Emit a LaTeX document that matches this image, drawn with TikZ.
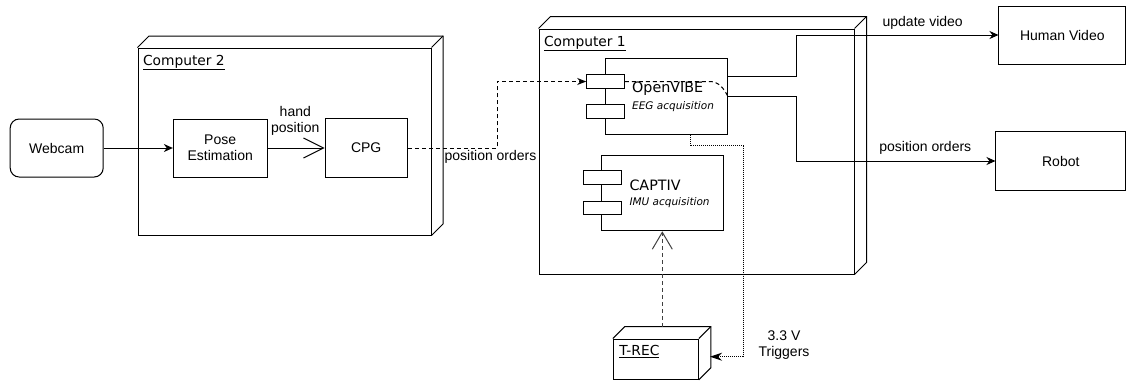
\documentclass[tikz,border=0pt]{standalone}
\usepackage{fontspec}
\setmainfont{Liberation Sans}
\newfontfamily\dejavu{DejaVu Sans}
\usetikzlibrary{arrows.meta}
\newcommand\lblsize{\fontsize{14}{16}\selectfont}
\newcommand\compsize{\dejavu\fontsize{13.8}{15}\selectfont}

\begin{document}
\begin{tikzpicture}[
    x=1pt, y=-1pt, line width=1pt,
    every node/.style={font=\lblsize},
    box/.style={draw, fill=white, inner sep=0pt},
    part/.style={draw, fill=white, minimum width=37.6pt, minimum height=13.6pt, inner sep=0pt},
    title/.style={font=\compsize, anchor=west, inner sep=0pt},
    partname/.style={font=\dejavu\fontsize{14.3}{16}\selectfont, anchor=west, inner sep=0pt},
    partsub/.style={font=\dejavu\itshape\fontsize{10.5}{12}\selectfont, anchor=west, inner sep=0pt},
    flow/.style={-{Stealth[length=9pt,width=8pt]}},
    dashline/.style={dash pattern=on 4pt off 3pt},
    openhead/.style={-{Straight Barb[length=#1,width=20pt]}}
]
\useasboundingbox (0,0) rectangle (1126,381);

% computer 2
\node[draw, inner sep=0pt, minimum width=293pt, minimum height=187pt] (comp2) at (284.5,141.5) {};
\draw (comp2.north west) -- ++(11.5,-11.5) -| ([shift={(11.5,-11.5)}]comp2.south east) -- (comp2.south east);
\draw (comp2.north east) -- ++(11.5,-11.5);
\node[title] (comp2name) at ([shift={(5,15)}]comp2.north west) {\underline{Computer 2}};

% computer 1
\node[draw, inner sep=0pt, minimum width=315pt, minimum height=245pt] (comp1) at (696.5,151.5) {};
\draw (comp1.north west) -- ++(12,-12) -| ([shift={(12,-12)}]comp1.south east) -- (comp1.south east);
\draw (comp1.north east) -- ++(12,-12);
\node[title] (comp1name) at ([shift={(5,15)}]comp1.north west) {\underline{Computer 1}};

% t-rec
\node[draw, inner sep=0pt, minimum width=85pt, minimum height=40.3pt] (trec) at (655.8,359.2) {};
\draw (trec.north west) -- ++(12,-12) -| ([shift={(12,-12)}]trec.south east) -- (trec.south east);
\draw (trec.north east) -- ++(12,-12);
\node[title] (trecname) at ([shift={(6,13)}]trec.north west) {\underline{T-REC}};

% boxes
\node[box, rounded corners=9pt, minimum width=93pt, minimum height=58pt] (webcam) at (56.7,148) {Webcam};
\node[box, minimum width=93.7pt, minimum height=58pt, align=center] (pose) at (220.2,148) {Pose\\Estimation};
\node[box, minimum width=82.3pt, minimum height=58.4pt] (cpg) at (366.2,148) {CPG};
\node[box, minimum width=126.7pt, minimum height=58pt] (video) at (1062.3,35) {Human Video};
\node[box, minimum width=129.7pt, minimum height=58.3pt] (robot) at (1060.8,161) {Robot};

% openvibe
\node[box, minimum width=121.6pt, minimum height=75.6pt] (openvibe) at (666.5,96.5) {};
\node[part] (ovin) at (605.5,81.5) {};
\node[part] (ovout) at (605.5,111.7) {};
\node[partname] (ovname) at (631.7,89) {OpenVIBE};
\node[partsub] (ovsub) at (631.7,107) {EEG acquisition};

% captiv
\node[box, minimum width=121.6pt, minimum height=75.7pt] (captiv) at (662.5,192.9) {};
\node[part] (cpin) at (602.2,177.5) {};
\node[part] (cpout) at (602.2,208) {};
\node[partname] (cpname) at (629,185) {CAPTIV};
\node[partsub] (cpsub) at (629,202.7) {IMU acquisition};

% connectors
\draw[flow] (webcam) -- (pose);
\draw[openhead=20pt] (pose) -- (cpg);
\node[align=center, inner sep=0pt] (handlbl) at (295.3,121) {hand\\position};

\draw[dashline, -{Stealth[length=9pt,width=7pt]}] (cpg.east) -- ++(89.4,0) |- (ovin.west);
\draw[dashline] (ovin.east) -- (710,81.5) .. controls (718,81.5) and (724,88) .. (openvibe.east);
\node[inner sep=0pt] (orders1) at (490.5,157) {position orders};

\draw[flow] ([yshift=20.5pt]openvibe.east) -- ++(68.7,0) |- (video.west);
\draw[flow] (openvibe.east) -- ++(68.7,0) |- (robot.west);
\node[inner sep=0pt] (videolbl) at (922.7,23.3) {update video};
\node[inner sep=0pt] (orders2) at (925.3,148.3) {position orders};

\coordinate (trecside) at (710,356.7);
\draw[dash pattern=on 1pt off 1pt, -{Stealth[length=12pt,width=8pt]}] ([xshift=23.5pt]openvibe.south) |- (743.3,145.7) |- (trecside);
\node[align=center, inner sep=0pt] (trigger) at (784,345.5) {3.3 V\\Triggers};

\coordinate (trectop) at ([shift={(6.5,-12)}]trec.north);
\draw[dashline, black!75, openhead=17pt] (trectop) -- (trectop |- captiv.south);
\end{tikzpicture}
\end{document}
